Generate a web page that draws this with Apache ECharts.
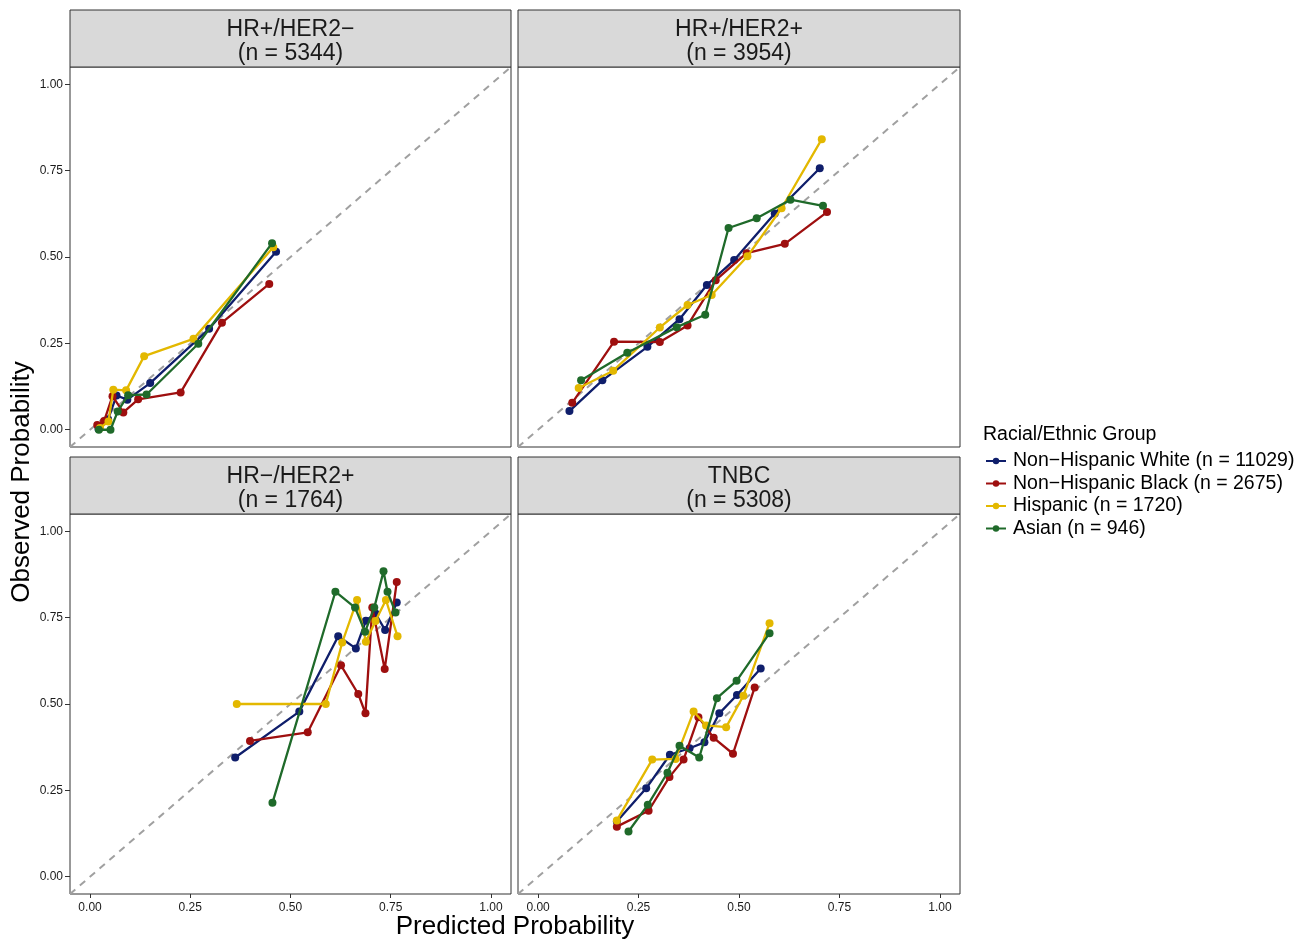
<!DOCTYPE html>
<html><head><meta charset="utf-8">
<script src="https://cdn.jsdelivr.net/npm/echarts@6/dist/echarts.min.js"></script>
<style>html,body{margin:0;padding:0;background:#fff}#c{width:1309px;height:941px}</style>
</head><body><div id="c"></div>
<script>
const groups = ["Non\u2212Hispanic White (n = 11029)", "Non\u2212Hispanic Black (n = 2675)", "Hispanic (n = 1720)", "Asian (n = 946)"];
const colors = ["#0F1E6B", "#9E0F0F", "#E3B800", "#1F6A2A"];
const panelTitles = ["HR+/HER2\u2212\n(n = 5344)", "HR+/HER2+\n(n = 3954)", "HR\u2212/HER2+\n(n = 1764)", "TNBC\n(n = 5308)"];
const tickValues = [0, 0.25, 0.5, 0.75, 1];

// Panel 1: HR+/HER2-
const p1White = [[0.021,0.003],[0.045,0.03],[0.066,0.099],[0.093,0.087],[0.150,0.135],[0.297,0.292],[0.464,0.515]];
const p1Black = [[0.018,0.014],[0.035,0.025],[0.056,0.097],[0.083,0.050],[0.120,0.088],[0.226,0.108],[0.329,0.310],[0.447,0.422]];
const p1Hisp  = [[0.025,0.005],[0.046,0.024],[0.058,0.116],[0.090,0.114],[0.135,0.213],[0.258,0.263],[0.457,0.528]];
const p1Asian = [[0.022,0.0],[0.051,0.0],[0.069,0.053],[0.095,0.100],[0.141,0.102],[0.270,0.249],[0.454,0.540]];
// Panel 2: HR+/HER2+
const p2White = [[0.078,0.054],[0.160,0.143],[0.272,0.240],[0.352,0.320],[0.420,0.419],[0.488,0.491],[0.589,0.626],[0.701,0.757]];
const p2Black = [[0.085,0.078],[0.189,0.255],[0.303,0.254],[0.372,0.302],[0.442,0.433],[0.519,0.511],[0.614,0.538],[0.719,0.630]];
const p2Hisp  = [[0.101,0.121],[0.187,0.171],[0.303,0.296],[0.372,0.361],[0.432,0.390],[0.521,0.502],[0.606,0.641],[0.706,0.841]];
const p2Asian = [[0.107,0.143],[0.222,0.223],[0.345,0.297],[0.416,0.333],[0.474,0.584],[0.544,0.612],[0.628,0.666],[0.709,0.648]];
// Panel 3: HR-/HER2+
const p3White = [[0.362,0.345],[0.522,0.478],[0.619,0.696],[0.663,0.661],[0.688,0.741],[0.712,0.762],[0.736,0.714],[0.765,0.794]];
const p3Black = [[0.399,0.393],[0.543,0.418],[0.626,0.612],[0.669,0.529],[0.687,0.473],[0.704,0.779],[0.735,0.601],[0.765,0.853]];
const p3Hisp  = [[0.366,0.500],[0.588,0.500],[0.629,0.678],[0.666,0.801],[0.688,0.680],[0.712,0.740],[0.738,0.801],[0.767,0.696]];
const p3Asian = [[0.455,0.214],[0.612,0.825],[0.661,0.779],[0.686,0.709],[0.709,0.779],[0.732,0.884],[0.742,0.825],[0.762,0.765]];
// Panel 4: TNBC
const p4White = [[0.196,0.160],[0.269,0.256],[0.328,0.353],[0.377,0.372],[0.414,0.389],[0.451,0.473],[0.495,0.526],[0.554,0.603]];
const p4Black = [[0.196,0.145],[0.275,0.191],[0.327,0.289],[0.362,0.339],[0.399,0.462],[0.437,0.402],[0.485,0.356],[0.539,0.548]];
const p4Hisp  = [[0.196,0.163],[0.284,0.339],[0.342,0.341],[0.387,0.478],[0.418,0.438],[0.468,0.433],[0.511,0.524],[0.576,0.734]];
const p4Asian = [[0.225,0.131],[0.273,0.208],[0.322,0.301],[0.352,0.379],[0.401,0.345],[0.445,0.517],[0.494,0.567],[0.576,0.705]];

const panels = [[p1White,p1Black,p1Hisp,p1Asian],[p2White,p2Black,p2Hisp,p2Asian],[p3White,p3Black,p3Hisp,p3Asian],[p4White,p4Black,p4Hisp,p4Asian]];

const FONT = "Liberation Sans, Arial, Helvetica, sans-serif";
const gridPos = [
  {left:70, top:67, width:441, height:380},
  {left:518, top:67, width:442, height:380},
  {left:70, top:514, width:441, height:380},
  {left:518, top:514, width:442, height:380}
];
const grids = gridPos.map(g => Object.assign({show:true, borderColor:'#333', borderWidth:1, backgroundColor:'#fff'}, g));
const fmt = v => v.toFixed(2);
const xAxes = gridPos.map((g,i) => ({
  type:'value', gridIndex:i, min:-0.05, max:1.05, position:'bottom',
  splitLine:{show:false}, axisLine:{show:false, onZero:false},
  axisTick:{show: i>=2, customValues:tickValues, length:4, lineStyle:{color:'#333', width:1}},
  axisLabel:{show: i>=2, customValues:tickValues, formatter:fmt, fontSize:12, color:'#1a1a1a', fontFamily:FONT, margin:8}
}));
const yAxes = gridPos.map((g,i) => ({
  type:'value', gridIndex:i, min:-0.05, max:1.05, position:'left',
  splitLine:{show:false}, axisLine:{show:false, onZero:false},
  axisTick:{show: i%2===0, customValues:tickValues, length:5, lineStyle:{color:'#333', width:1}},
  axisLabel:{show: i%2===0, customValues:tickValues, formatter:fmt, fontSize:12, color:'#1a1a1a', fontFamily:FONT, margin:7}
}));

const series = [];
panels.forEach((pd, i) => {
  series.push({
    type:'line', xAxisIndex:i, yAxisIndex:i, data:[[-0.05,-0.05],[1.05,1.05]],
    symbol:'none', silent:true, lineStyle:{color:'#a0a0a0', width:2, type:[7,6]}, z:1
  });
  pd.forEach((d, k) => {
    series.push({
      type:'line', name:groups[k], xAxisIndex:i, yAxisIndex:i, data:d,
      symbol:'circle', symbolSize:8, color:colors[k],
      lineStyle:{width:2.3, color:colors[k]}, itemStyle:{color:colors[k]}, z:2+k
    });
  });
});

const graphics = [];
gridPos.forEach((g, i) => {
  const y0 = g.top - 57;
  graphics.push({type:'rect', shape:{x:g.left, y:y0, width:g.width, height:57},
    style:{fill:'#D9D9D9', stroke:'#333', lineWidth:1}});
  graphics.push({type:'text', x:g.left + g.width/2, y:y0 + 32,
    style:{text:panelTitles[i], fill:'#1a1a1a', font:'23px ' + FONT, textAlign:'center', textVerticalAlign:'middle', lineHeight:24}});
});
graphics.push({type:'text', x:515, y:927, style:{text:'Predicted Probability', fill:'#000', font:'26px ' + FONT, textAlign:'center', textVerticalAlign:'middle'}});
graphics.push({type:'text', x:22, y:482, rotation:Math.PI/2, style:{text:'Observed Probability', fill:'#000', font:'26px ' + FONT, textAlign:'center', textVerticalAlign:'middle'}});
graphics.push({type:'text', x:983, y:435, style:{text:'Racial/Ethnic Group', fill:'#000', font:'19.5px ' + FONT, textAlign:'left', textVerticalAlign:'middle'}});

const chart = echarts.init(document.getElementById('c'), null, {renderer:'canvas'});
chart.setOption({
  animation:false,
  backgroundColor:'#fff',
  grid:grids, xAxis:xAxes, yAxis:yAxes, series:series,
  legend:{data:groups, orient:'vertical', left:985, top:451, padding:0, itemWidth:20, itemHeight:8, itemGap:2.5,
    textStyle:{fontSize:19.5, color:'#000', fontFamily:FONT, lineHeight:18.5, padding:[0,0,0,2]}},
  graphic:graphics
});
</script></body></html>
